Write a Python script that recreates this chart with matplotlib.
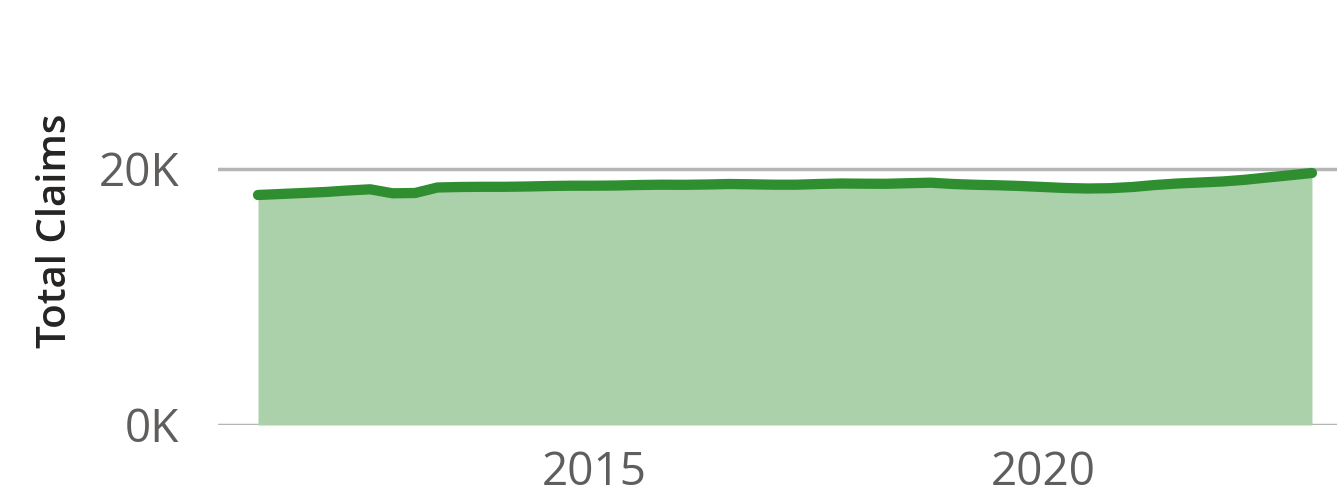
import matplotlib
matplotlib.use("Agg")
import matplotlib.pyplot as plt
import numpy as np
from matplotlib.ticker import FuncFormatter

# Quarterly total claims, 2011 Q2 through 2023 Q1
quarter_start = 2011.25
quarters = 48
claims = [17969, 18047, 18125, 18203, 18320, 18414, 18102, 18125,
          18555, 18594, 18609, 18609, 18633, 18672, 18695, 18695,
          18711, 18750, 18773, 18765, 18789, 18828, 18805, 18773,
          18773, 18828, 18867, 18852, 18844, 18891, 18930, 18828,
          18766, 18727, 18672, 18594, 18516, 18477, 18500, 18594,
          18750, 18867, 18945, 19023, 19156, 19336, 19508, 19688]
years = [quarter_start + 0.25 * i for i in range(quarters)]
x_ticks = [2015, 2020]
y_ticks = [0, 20000]

fig = plt.figure(figsize=(13.37, 5.01), dpi=100)
ax = fig.add_axes([218 / 1337, 76 / 501, 1119 / 1337, 320 / 501])

ax.fill_between(years, 0, claims, color="#ABD1AB", linewidth=0, zorder=2)
ax.plot(years, claims, color="#2F8F30", linewidth=7.4,
        solid_capstyle="round", solid_joinstyle="round", zorder=3)

for v in y_ticks:
    ax.axhline(v, color="#B5B5B5", linewidth=2.5, zorder=1)

ax.set_xlim(2010.804, 2023.279)
ax.set_ylim(0, 25000)
ax.set_xticks(x_ticks)
ax.set_yticks(y_ticks)
ax.yaxis.set_major_formatter(FuncFormatter(lambda v, p: f"{int(v / 1000)}K"))
ax.tick_params(axis="both", length=0, labelcolor="#605E5C", labelsize=33)
ax.tick_params(axis="y", pad=28)
ax.tick_params(axis="x", pad=18)
for lbl in ax.get_xticklabels() + ax.get_yticklabels():
    lbl.set_family("Open Sans")

for s in ax.spines.values():
    s.set_visible(False)

ax.set_ylabel("Total Claims", fontsize=29, color="#252423",
              family="Open Sans", fontweight="semibold")
ax.yaxis.set_label_coords(-0.127, 0.606)

fig.savefig("out.png", dpi=100)
